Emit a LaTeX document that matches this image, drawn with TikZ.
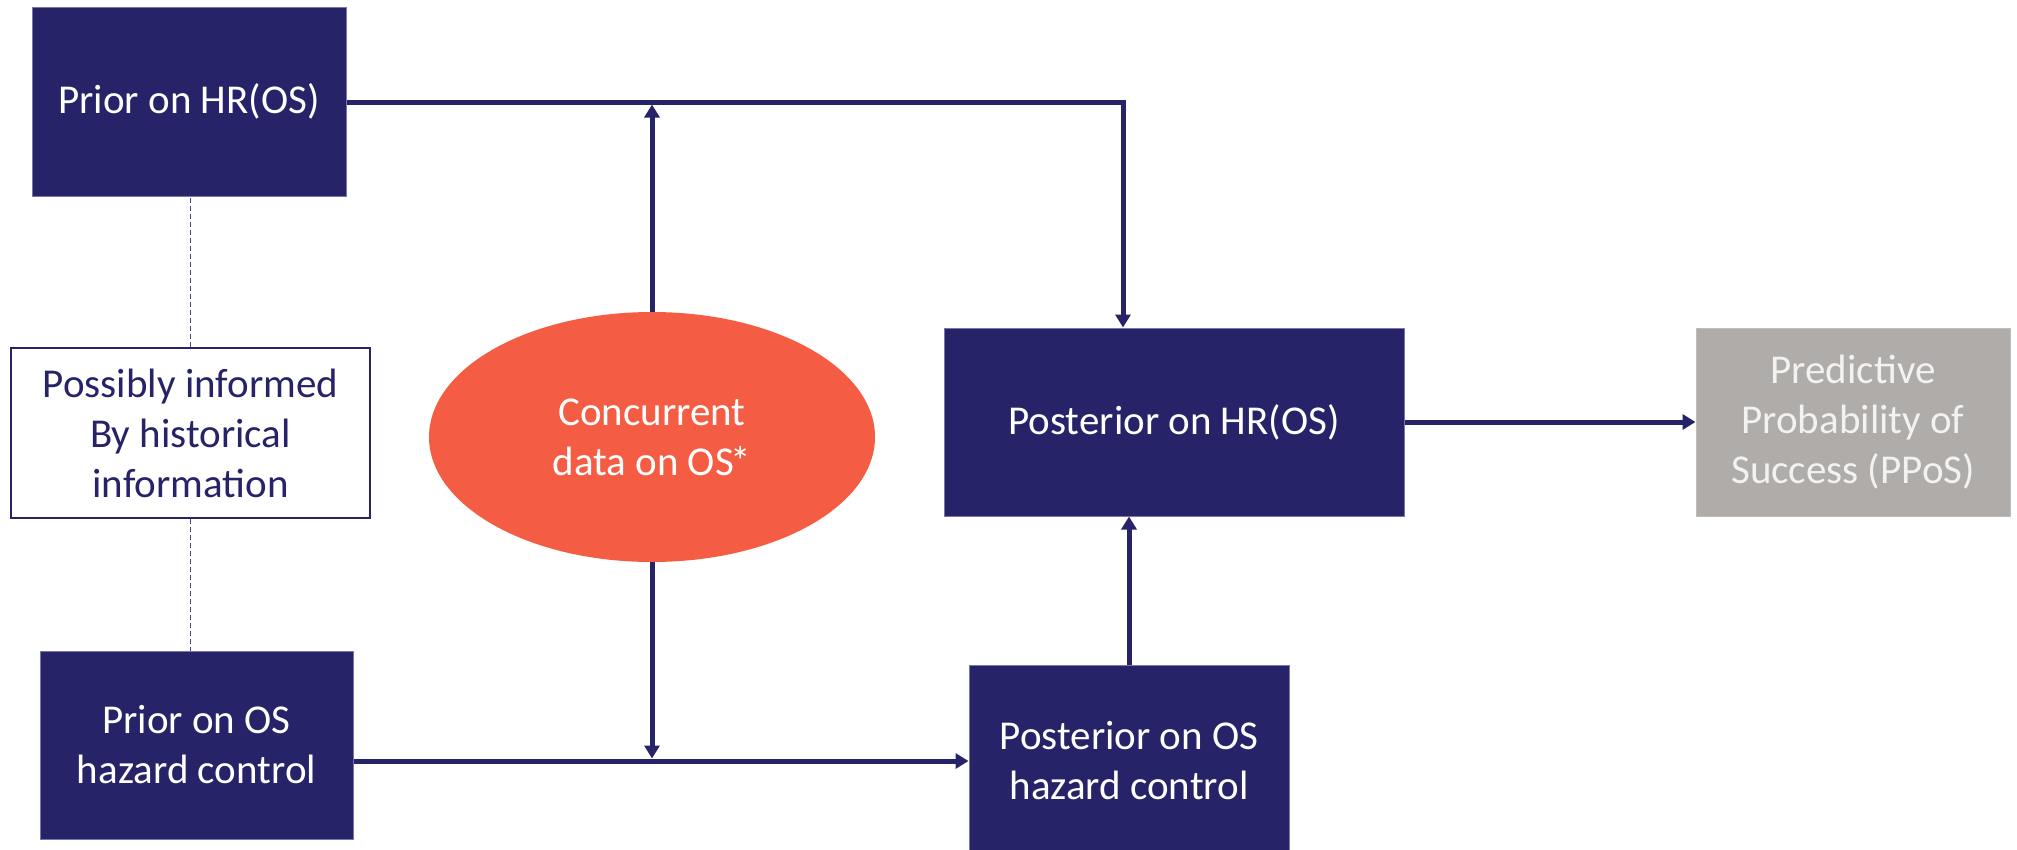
\documentclass[tikz,border=0pt]{standalone}
\usepackage{fontspec}
\setmainfont{Carlito}
\usetikzlibrary{arrows.meta,shapes.geometric}

\definecolor{navy}{RGB}{38,35,104}
\definecolor{navyedge}{RGB}{120,118,170}
\definecolor{coral}{RGB}{244,93,67}
\definecolor{stone}{RGB}{175,172,170}
\definecolor{paleText}{RGB}{242,242,242}

\tikzset{
  lbl/.style={font=\fontsize{41}{50}\selectfont, align=center, inner sep=0pt},
  navybox/.style={lbl, rectangle, fill=navy, draw=navyedge, line width=1pt, text=white},
  notebox/.style={lbl, rectangle, fill=white, draw=navy, line width=2pt, text=navy},
  greybox/.style={lbl, rectangle, fill=stone, draw=stone!80!white, line width=1pt, text=paleText},
  databubble/.style={lbl, ellipse, fill=coral, draw=none, text=white},
  flow/.style={draw=navy, line width=5pt, line join=miter, -{Triangle[width=15pt,length=13pt]}},
  hint/.style={draw=navy!85!white, line width=1.5pt, dash pattern=on 5pt off 3pt}
}

\begin{document}
\begin{tikzpicture}[x=1pt, y=-1pt]
  \useasboundingbox (0,0) rectangle (2017,849);

  % boxes
  \node[navybox, minimum width=314pt, minimum height=189pt] (priorHR) at (189,101.5) {Prior on HR(OS)};
  \node[notebox, minimum width=359pt, minimum height=170pt] (hist) at (190.5,433) {Possibly informed\\By historical\\information};
  \node[navybox, minimum width=313pt, minimum height=188pt] (priorOS) at (196.5,745) {Prior on OS\\hazard control};
  \node[databubble, minimum width=446pt, minimum height=250pt] (data) at (652,437) {Concurrent\\data on OS\kern-3pt*};
  \node[navybox, minimum width=460pt, minimum height=188pt] (postHR) at (1174,422) {Posterior on HR(OS)};
  \node[greybox, minimum width=314pt, minimum height=188pt] (ppos) at (1853,422) {Predictive\\Probability of\\Success (PPoS)};
  \node[navybox, minimum width=320pt, minimum height=192pt] (postOS) at (1129,761) {Posterior on OS\\hazard control};

  \coordinate (bend) at (1123,102);

  % dashed links to the historical note
  \draw[hint] (hist.north) -- (hist.north |- priorHR.south);
  \draw[hint] (hist.south) -- (hist.south |- priorOS.north);

  % upper route: prior on HR to posterior on HR
  \draw[flow] (priorHR.east |- bend) -- (bend) -- (bend |- postHR.north);

  % concurrent data feeding both routes
  \draw[flow, shorten >=2.5pt] (data.north) -- (data.north |- bend);
  \draw[flow, shorten >=2.5pt] (data.south) -- (data.south |- postOS.west);

  % lower route
  \draw[flow] (priorOS.east |- postOS.west) -- (postOS.west);
  \draw[flow] (postOS.north) -- (postOS.north |- postHR.south);
  \draw[flow] (postHR.east) -- (ppos.west);
\end{tikzpicture}
\end{document}
